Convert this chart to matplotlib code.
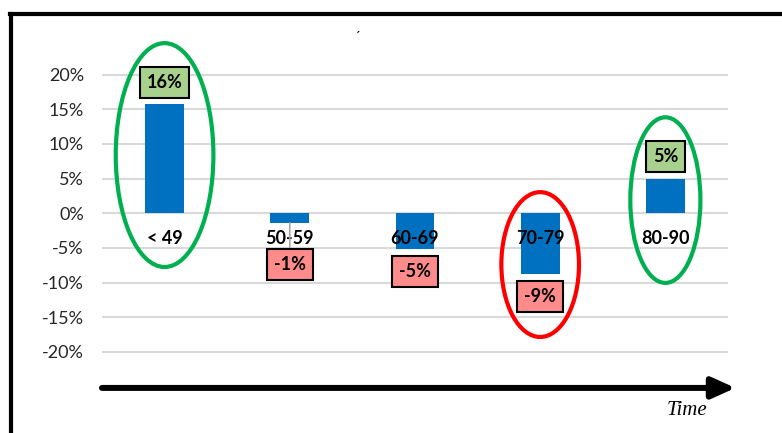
import numpy as np
import matplotlib.pyplot as plt
from matplotlib.patches import Ellipse
from matplotlib.lines import Line2D
from matplotlib.ticker import FuncFormatter

# --- Data ---
groups = ['< 49', '50-59', '60-69', '70-79', '80-90']
change = [15.7, -1.4, -5.2, -8.8, 5.0]   # percent
yticks = [20, 15, 10, 5, 0, -5, -10, -15, -20]

# label offsets from bar end (points); 50-59 label was dragged down with a leader line
label_offset = [16, 30, 16, 16, 16]

# highlight rings: (group index, centre y, width in groups, height in %, colour)
rings = [(0, 8.4, 0.78, 32.3, '#00b050'),
         (3, -7.4, 0.62, 20.9, '#ff0000'),
         (4, 1.9, 0.56, 23.9, '#00b050')]

plt.rcParams['font.family'] = ['Lato', 'DejaVu Sans']

fig = plt.figure(figsize=(7.82, 4.33), dpi=100)
ax = fig.add_axes([0.1304, 0.0753, 0.8005, 0.8483])

x = np.arange(len(groups))
ax.bar(x, change, width=0.31, color='#0070c0', zorder=2)

ax.set_xlim(-0.5, 4.5)
ax.set_ylim(-27, 26)
ax.set_yticks(yticks)
ax.yaxis.set_major_formatter(FuncFormatter(lambda v, p: f'{v:.0f}%'))
ax.tick_params(axis='y', length=0, labelsize=13, colors='#262626', pad=13)
ax.set_xticks([])
for s in ax.spines.values():
    s.set_visible(False)
for t in yticks:
    ax.axhline(t, color='#d9d9d9', lw=1.5, zorder=0)

# group names sit just under the zero line
for i, g in enumerate(groups):
    ax.text(i, -3.7, g, ha='center', va='center', fontsize=13,
            fontweight='bold', zorder=4)

# value boxes
for i, v in enumerate(change):
    up = v >= 0
    off = label_offset[i] if up else -label_offset[i]
    fill = '#a9d18e' if up else '#ff8b8b'
    arrow = None
    if label_offset[i] > 16:
        arrow = dict(arrowstyle='-', color='#a6a6a6', lw=1.2,
                     shrinkA=0, shrinkB=0)
    ax.annotate(f'{v:.0f}%', xy=(i, v), xytext=(0, off),
                textcoords='offset points', ha='center', va='center',
                fontsize=13, fontweight='bold', zorder=5,
                bbox=dict(boxstyle='square,pad=0.38', fc=fill, ec='black', lw=1.5),
                arrowprops=arrow)

for i, cy, w, h, col in rings:
    ax.add_patch(Ellipse((i, cy), w, h, fill=False, ec=col, lw=3,
                         zorder=6, clip_on=False))

# time arrow under the chart
ax.annotate('', xy=(4.56, -25.2), xytext=(-0.5, -25.2),
            arrowprops=dict(arrowstyle='-|>,head_length=1.0,head_width=0.45',
                            mutation_scale=14, lw=4.3, color='black',
                            shrinkA=0, shrinkB=0),
            annotation_clip=False)
fig.text(0.878, 0.053, 'Time', fontsize=15, style='italic',
         family=['Liberation Serif'], ha='center', va='center')
fig.text(0.457, 0.915, '´', fontsize=10, ha='center', va='center')

# outer frame (left and top edges)
fig.add_artist(Line2D([0.0145, 0.0145], [0.0, 0.9677], color='black', lw=3))
fig.add_artist(Line2D([0.0125, 1.0], [0.9677, 0.9677], color='black', lw=3))

fig.savefig('out.png', dpi=100)
